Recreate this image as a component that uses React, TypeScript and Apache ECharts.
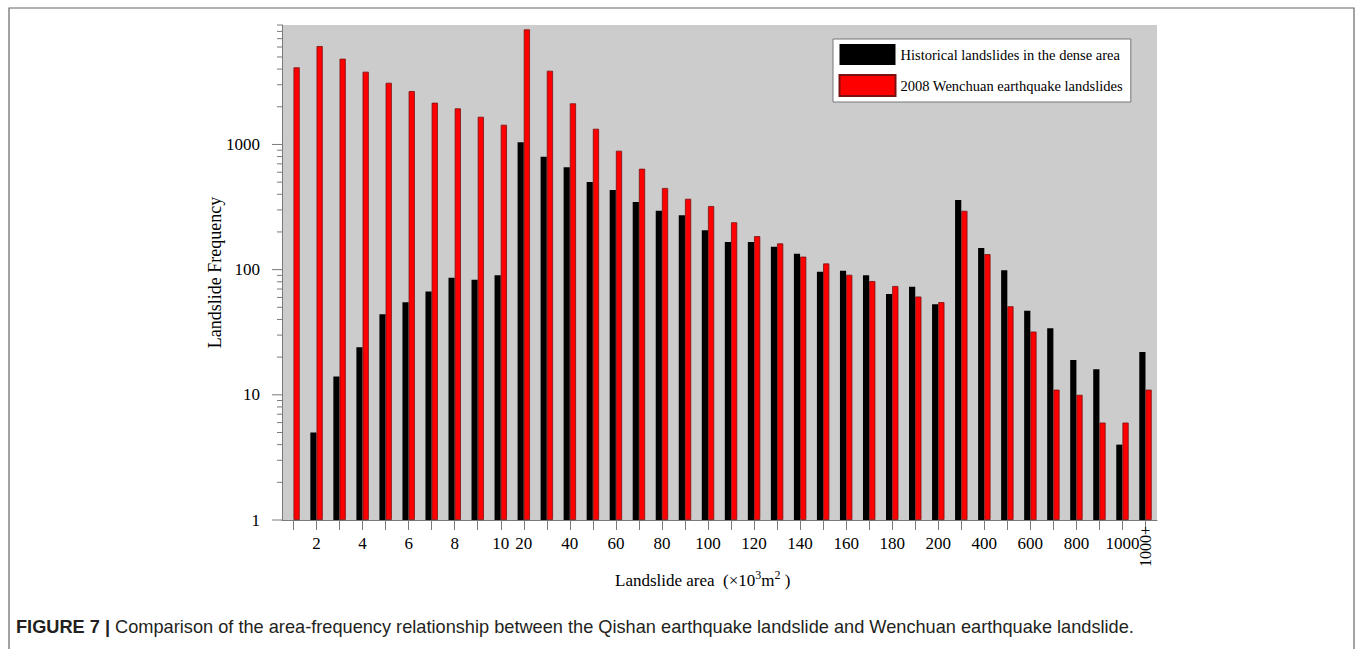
import React, { useEffect, useRef } from 'react';
import * as echarts from 'echarts';

// Landslide area classes (×10³ m²)
const areaClasses = [
  '1', '2', '3', '4', '5', '6', '7', '8', '9', '10',
  '20', '30', '40', '50', '60', '70', '80', '90', '100', '110',
  '120', '130', '140', '150', '160', '170', '180', '190', '200',
  '300', '400', '500', '600', '700', '800', '900', '1000', '1000+',
];

// Historical landslides in the dense area (frequency)
const historical = [
  null, 5, 14, 24, 44, 55, 67, 86, 83, 90,
  1040, 798, 656, 501, 432, 347, 295, 272, 206, 166,
  166, 152, 134, 96, 98, 90, 64, 73, 53,
  360, 149, 99, 47, 34, 19, 16, 4, 22,
];

// 2008 Wenchuan earthquake landslides (frequency)
const wenchuan = [
  4130, 6110, 4840, 3810, 3110, 2670, 2155, 1942, 1664, 1437,
  8300, 3880, 2130, 1335, 891, 640, 449, 368, 322, 239,
  185, 162, 127, 112, 91, 81, 74, 61, 55,
  295, 133, 51, 32, 11, 10, 6, 6, 11,
];

// Log-axis tick values
const majorTicks = [1, 10, 100, 1000];
const minorTicks = [
  2, 3, 4, 5, 6, 7, 8, 9,
  20, 30, 40, 50, 60, 70, 80, 90,
  200, 300, 400, 500, 600, 700, 800, 900,
  2000, 3000, 4000, 5000, 6000, 7000, 8000, 9000,
];

const SERIF = '"Liberation Serif", "Times New Roman", serif';
const SANS = '"Liberation Sans", Arial, sans-serif';
const AXIS_GRAY = '#7a7a7a';

export default function App() {
  const ref = useRef<HTMLDivElement>(null);

  useEffect(() => {
    if (!ref.current) return;
    const chart = echarts.init(ref.current, undefined, { renderer: 'svg' });

    const tickData = [
      ...majorTicks.map((v) => [0, v, 10]),
      ...minorTicks.map((v) => [0, v, 5]),
    ];

    chart.setOption({
      animation: false,
      backgroundColor: '#ffffff',
      grid: {
        left: 282,
        top: 25,
        width: 875,
        height: 495,
        show: true,
        backgroundColor: '#cccccc',
        borderWidth: 0,
      },
      legend: {
        data: ['Historical landslides in the dense area', '2008 Wenchuan earthquake landslides'],
        orient: 'vertical',
        left: 833,
        top: 39,
        itemWidth: 56,
        itemHeight: 21,
        itemGap: 9,
        padding: [5, 8, 5, 5.5],
        backgroundColor: '#ffffff',
        borderColor: '#777777',
        borderWidth: 1,
        icon: 'rect',
        textStyle: { fontFamily: SERIF, fontSize: 14.5, color: '#000' },
      },
      xAxis: [
        {
          type: 'category',
          data: areaClasses,
          position: 'bottom',
          axisLine: { show: true, lineStyle: { color: AXIS_GRAY, width: 1 } },
          axisTick: {
            show: true,
            interval: 0,
            alignWithLabel: true,
            length: 10,
            lineStyle: { color: AXIS_GRAY },
          },
          axisLabel: {
            interval: (i: number) => (i < 10 ? i % 2 === 1 : i < 37 ? i % 2 === 0 : false),
            margin: 15,
            fontFamily: SERIF,
            fontSize: 17,
            color: '#000',
          },
          splitLine: { show: false },
        },
        {
          type: 'category',
          data: areaClasses,
          position: 'bottom',
          axisLine: { show: false },
          axisTick: { show: false },
          axisLabel: {
            interval: (i: number) => i === 37,
            rotate: 90,
            margin: 6,
            fontFamily: SERIF,
            fontSize: 16,
            color: '#000',
          },
          splitLine: { show: false },
        },
      ],
      yAxis: {
        type: 'log',
        logBase: 10,
        min: 1,
        max: 9000,
        name: 'Landslide Frequency',
        nameLocation: 'middle',
        nameGap: 58,
        nameMoveOverlap: false,
        nameTextStyle: { fontFamily: SERIF, fontSize: 18, color: '#000' },
        axisLine: { show: true, lineStyle: { color: AXIS_GRAY, width: 1 } },
        axisTick: { show: false },
        splitLine: { show: false },
        axisLabel: {
          margin: 22,
          fontFamily: SERIF,
          fontSize: 17,
          color: '#000',
          padding: [0, 0, 8, 0],
          formatter: (v: number) => {
            const l = Math.log10(v);
            return Math.abs(l - Math.round(l)) < 1e-6 ? String(Math.round(v)) : '';
          },
        },
      },
      series: [
        {
          name: 'Historical landslides in the dense area',
          type: 'bar',
          data: historical,
          barWidth: 6.2,
          barGap: '0%',
          itemStyle: { color: '#000000' },
        },
        {
          name: '2008 Wenchuan earthquake landslides',
          type: 'bar',
          data: wenchuan,
          barWidth: 6.2,
          barGap: '0%',
          itemStyle: { color: '#ff0000', borderColor: '#7a1010', borderWidth: 0.8 },
        },
        {
          name: 'yTicks',
          type: 'custom',
          silent: true,
          clip: false,
          z: 5,
          data: tickData,
          encode: { x: 0, y: 1 },
          renderItem: (params: any, api: any) => {
            const y = api.coord([0, api.value(1)])[1];
            const x = params.coordSys.x;
            const len = api.value(2);
            return {
              type: 'line',
              shape: { x1: x - len, y1: y, x2: x, y2: y },
              style: { stroke: AXIS_GRAY, lineWidth: 1 },
            };
          },
        },
      ],
      graphic: [
        {
          type: 'rect',
          shape: { x: 9, y: 8, width: 1345, height: 700 },
          style: { fill: 'none', stroke: '#666666', lineWidth: 1.2 },
          silent: true,
        },
        {
          type: 'text',
          x: 615,
          y: 580,
          style: {
            text: '{n|Landslide area  (×10}{sup|3}{n|m}{sup|2}{n| )}',
            verticalAlign: 'middle',
            rich: {
              n: { fontFamily: SERIF, fontSize: 17, fill: '#000' },
              sup: { fontFamily: SERIF, fontSize: 12, fill: '#000', padding: [0, 0, 10, 0] },
            },
          },
          silent: true,
        },
        {
          type: 'text',
          x: 16,
          y: 627,
          style: {
            text: '{b|FIGURE 7 |}{n| Comparison of the area-frequency relationship between the Qishan earthquake landslide and Wenchuan earthquake landslide.}',
            verticalAlign: 'middle',
            rich: {
              b: { fontFamily: SANS, fontSize: 18.2, fontWeight: 'bold', fill: '#231f20' },
              n: { fontFamily: SANS, fontSize: 18.2, fill: '#231f20' },
            },
          },
          silent: true,
        },
      ],
    });

    return () => chart.dispose();
  }, []);

  return (
    <div
      ref={ref}
      style={{ position: 'absolute', left: 0, top: 0, width: 1357, height: 649 }}
    />
  );
}
